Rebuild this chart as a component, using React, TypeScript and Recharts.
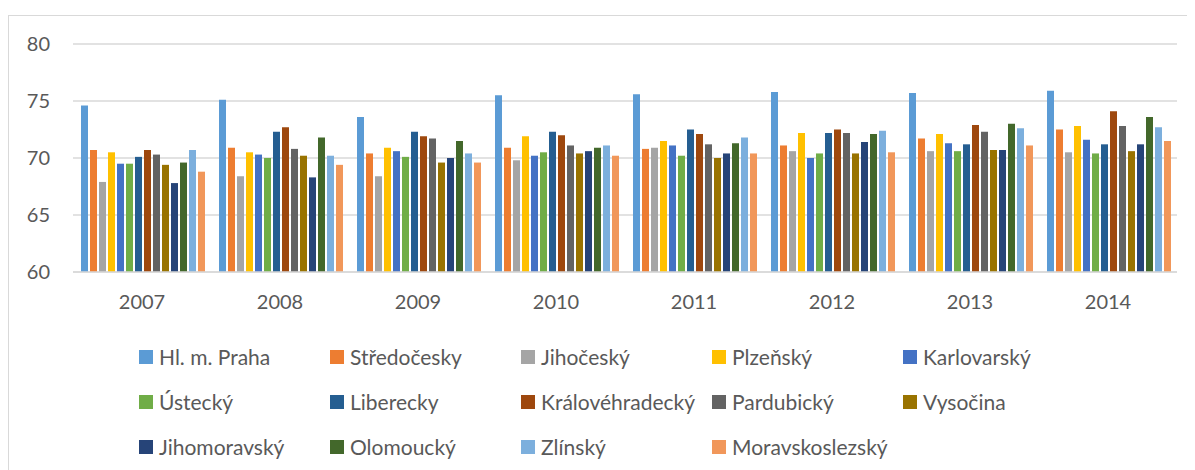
import { BarChart, Bar, XAxis, YAxis, CartesianGrid, Legend } from "recharts";

const years = ["2007", "2008", "2009", "2010", "2011", "2012", "2013", "2014"];

const regions = [
  "Hl. m. Praha",
  "Středočesky",
  "Jihočeský",
  "Plzeňský",
  "Karlovarský",
  "Ústecký",
  "Liberecky",
  "Královéhradecký",
  "Pardubický",
  "Vysočina",
  "Jihomoravský",
  "Olomoucký",
  "Zlínský",
  "Moravskoslezský",
];

const colors = [
  "#5B9BD5",
  "#ED7D31",
  "#A5A5A5",
  "#FFC000",
  "#4472C4",
  "#70AD47",
  "#255E91",
  "#9E480E",
  "#636363",
  "#997300",
  "#264478",
  "#43682B",
  "#7CAFDD",
  "#F1975A",
];

// values per region, one entry per year 2007..2014
const praha = [74.6, 75.1, 73.6, 75.5, 75.6, 75.8, 75.7, 75.9];
const stredocesky = [70.7, 70.9, 70.4, 70.9, 70.8, 71.1, 71.7, 72.5];
const jihocesky = [67.9, 68.4, 68.4, 69.8, 70.9, 70.6, 70.6, 70.5];
const plzensky = [70.5, 70.5, 70.9, 71.9, 71.5, 72.2, 72.1, 72.8];
const karlovarsky = [69.5, 70.3, 70.6, 70.2, 71.1, 70.0, 71.3, 71.6];
const ustecky = [69.5, 70.0, 70.1, 70.5, 70.2, 70.4, 70.6, 70.4];
const liberecky = [70.1, 72.3, 72.3, 72.3, 72.5, 72.2, 71.2, 71.2];
const kralovehradecky = [70.7, 72.7, 71.9, 72.0, 72.1, 72.5, 72.9, 74.1];
const pardubicky = [70.3, 70.8, 71.7, 71.1, 71.2, 72.2, 72.3, 72.8];
const vysocina = [69.4, 70.2, 69.6, 70.4, 70.0, 70.4, 70.7, 70.6];
const jihomoravsky = [67.8, 68.3, 70.0, 70.6, 70.4, 71.4, 70.7, 71.2];
const olomoucky = [69.6, 71.8, 71.5, 70.9, 71.3, 72.1, 73.0, 73.6];
const zlinsky = [70.7, 70.2, 70.4, 71.1, 71.8, 72.4, 72.6, 72.7];
const moravskoslezsky = [68.8, 69.4, 69.6, 70.2, 70.4, 70.5, 71.1, 71.5];

const series = [
  praha,
  stredocesky,
  jihocesky,
  plzensky,
  karlovarsky,
  ustecky,
  liberecky,
  kralovehradecky,
  pardubicky,
  vysocina,
  jihomoravsky,
  olomoucky,
  zlinsky,
  moravskoslezsky,
];

const yTicks = [60, 65, 70, 75, 80];

const data = years.map((year, i) => {
  const row: Record<string, string | number> = { year };
  regions.forEach((name, s) => {
    row[name] = series[s][i];
  });
  return row;
});

const font = "Lato, 'Open Sans', sans-serif";
const textColor = "#595959";

function LegendGrid() {
  return (
    <div
      style={{
        display: "grid",
        gridTemplateColumns: "repeat(5, 191px)",
        gridAutoRows: "45px",
        fontFamily: font,
        fontSize: 21,
        color: textColor,
      }}
    >
      {regions.map((name, i) => (
        <div key={name} style={{ display: "flex", alignItems: "center" }}>
          <span
            style={{
              display: "inline-block",
              width: 14,
              height: 14,
              background: colors[i],
              marginRight: 6,
            }}
          />
          <span style={{ whiteSpace: "nowrap" }}>{name}</span>
        </div>
      ))}
    </div>
  );
}

export default function App() {
  return (
    <div
      style={{
        marginTop: 7,
        width: 1186,
        height: 455,
        borderTop: "1px solid #d9d9d9",
        borderLeft: "1px solid #d9d9d9",
        background: "#fff",
      }}
    >
      <BarChart
        width={1186}
        height={454}
        data={data}
        margin={{ top: 28, right: 18, left: 0, bottom: 168 }}
        barCategoryGap={8}
        barGap={2}
      >
        <CartesianGrid vertical={false} stroke="#d9d9d9" strokeWidth={1.5} />
        <XAxis
          dataKey="year"
          axisLine={{ stroke: "#d9d9d9", strokeWidth: 1.5 }}
          tickLine={false}
          tickSize={0}
          tickMargin={23}
          tick={{ fill: textColor, fontSize: 20, fontFamily: font }}
        />
        <YAxis
          domain={[60, 80]}
          ticks={yTicks}
          width={64}
          axisLine={false}
          tickLine={false}
          tickSize={0}
          tickMargin={23}
          tick={{ fill: textColor, fontSize: 20, fontFamily: font }}
        />
        <Legend
          layout="horizontal"
          verticalAlign="middle"
          align="center"
          content={() => <LegendGrid />}
          wrapperStyle={{ left: 130, top: 318, width: 1000 }}
        />
        {regions.map((name, i) => (
          <Bar
            key={name}
            dataKey={name}
            fill={colors[i]}
            isAnimationActive={false}
          />
        ))}
      </BarChart>
    </div>
  );
}
